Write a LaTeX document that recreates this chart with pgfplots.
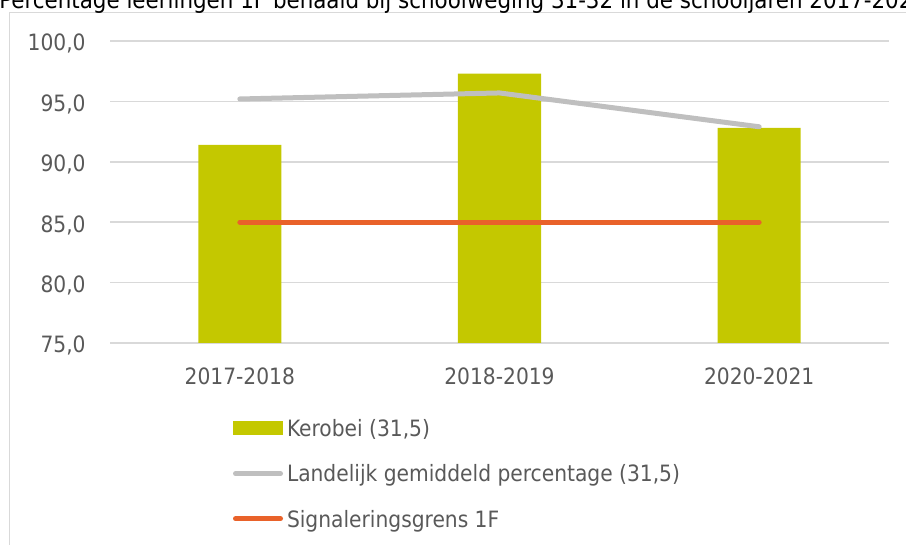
\documentclass[border=0pt]{standalone}
\usepackage{pgfplots}
\pgfplotsset{compat=1.18}
\usepackage{fontspec}
\setmainfont{DejaVu Sans Condensed}
\definecolor{barc}{HTML}{C4C800}
\definecolor{greyl}{HTML}{BFBFBF}
\definecolor{orangel}{HTML}{E9622A}
\definecolor{gridc}{HTML}{D9D9D9}
\definecolor{txt}{HTML}{595959}
\begin{document}
\begin{tikzpicture}
\useasboundingbox (0pt,0pt) rectangle (453pt,-272.5pt);
\draw[gridc, line width=0.75pt] (4.75pt,-290pt) -- (4.75pt,-6.35pt) -- (470pt,-6.35pt);
\node[anchor=base west, inner sep=0pt, font=\fontsize{11.9}{14}\selectfont, text=black] at (-0.5pt,-4.3pt)
  {Percentage leerlingen 1F behaald bij schoolweging 31-32 in de schooljaren 2017-2021};
\begin{axis}[
  at={(55pt,-171.5pt)}, anchor=south west,
  scale only axis, width=389.5pt, height=151pt,
  xmin=-0.5, xmax=2.5, ymin=75, ymax=100,
  xtick={0,1,2}, xticklabels={2017-2018,2018-2019,2020-2021},
  ytick={75,80,85,90,95,100},
  ymajorgrids, grid style={gridc, line width=0.75pt},
  axis line style={draw=none}, tick style={draw=none},
  /pgf/number format/.cd, fixed, fixed zerofill, precision=1, use comma, assume math mode=true,
  /pgfplots/.cd,
  ticklabel style={font=\fontsize{11.25}{13}\selectfont, text=txt},
  yticklabel style={inner sep=0pt, anchor=base east, xshift=-12pt, yshift=-4.9pt},
  xticklabel style={inner sep=0pt, anchor=base, yshift=-20.65pt},
  legend cell align=left,
  legend style={at={(0.1579,-0.2427)}, anchor=north west, draw=none, fill=none,
    inner sep=0pt, outer sep=0pt, row sep=10.4pt,
    font=\fontsize{11.25}{13}\selectfont, text=txt,
    nodes={inner sep=0pt, text height=10.2pt, text depth=2pt},
    /tikz/every odd column/.append style={column sep=2pt}},
]
\addplot[ybar, bar width=0.32, fill=barc, draw=none,
  legend image code/.code={\fill[barc] (0pt,-3.5pt) rectangle (25pt,3.5pt);}]
  coordinates {(0,91.4) (1,97.3) (2,92.8)};
\addlegendentry{Kerobei (31,5)}
\addplot[greyl, line width=2.5pt, line cap=round, line join=round,
  legend image code/.code={\draw[greyl, line width=2.5pt, line cap=round] (1.25pt,0pt) -- (23.75pt,0pt);}]
  coordinates {(0,95.2) (1,95.7) (2,92.9)};
\addlegendentry{Landelijk gemiddeld percentage (31,5)}
\addplot[orangel, line width=2.5pt, line cap=round,
  legend image code/.code={\draw[orangel, line width=2.5pt, line cap=round] (1.25pt,0pt) -- (23.75pt,0pt);}]
  coordinates {(0,85) (1,85) (2,85)};
\addlegendentry{Signaleringsgrens 1F}
\end{axis}
\end{tikzpicture}
\end{document}
